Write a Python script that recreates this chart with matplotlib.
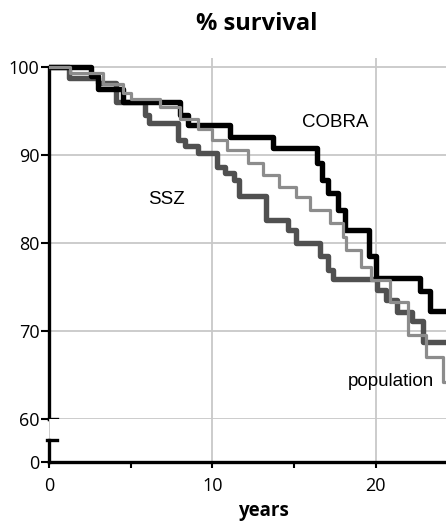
import matplotlib
matplotlib.use('Agg')
import matplotlib.pyplot as plt

# step survival curves (years, % survival)
cobra_t = [0, 2.6, 3.0, 4.5, 8.0, 8.5, 11.1, 13.7, 16.4, 16.7, 17.1, 17.7, 18.1, 19.6, 20.0, 22.7, 23.3, 24.3]
cobra_s = [100, 99.0, 97.5, 96.0, 94.6, 93.4, 92.0, 90.8, 89.1, 87.2, 85.7, 83.8, 81.5, 78.5, 76.0, 74.5, 72.3, 72.3]

ssz_t = [0, 1.2, 3.0, 4.1, 5.9, 6.1, 7.9, 8.3, 9.1, 10.3, 10.8, 11.3, 11.6, 13.3, 14.6, 15.1, 16.6, 17.1, 17.4,
         20.1, 20.6, 21.3, 22.2, 22.9, 24.3]
ssz_s = [100, 98.7, 98.2, 96.0, 94.5, 93.6, 91.7, 91.0, 90.2, 88.6, 87.9, 87.2, 85.3, 82.6, 81.5, 80.0, 78.5,
         76.9, 75.9, 74.7, 73.5, 72.2, 71.1, 68.8, 68.8]

pop_t = [0, 1.3, 3.3, 4.5, 5.0, 6.8, 8.0, 9.1, 10.0, 10.9, 12.2, 13.1, 14.1, 15.1, 16.0, 17.2, 18.0, 18.2,
         19.1, 19.7, 20.9, 22.0, 23.1, 24.1, 24.3]
pop_s = [100, 99.3, 98.1, 97.0, 96.4, 95.5, 94.1, 93.0, 91.7, 90.6, 89.1, 87.7, 86.4, 85.2, 83.7, 82.3, 80.7,
         79.2, 77.3, 75.8, 73.3, 69.5, 67.0, 64.2, 64.2]

upper_ticks = [60, 70, 80, 90, 100]
x_ticks = [0, 10, 20]
x_minor = [5, 15]

labels = {'COBRA': (17.5, 93.2), 'SSZ': (7.2, 84.4), 'population': (20.9, 63.8)}

W, H = 446, 521
fig = plt.figure(figsize=(W / 100, H / 100), dpi=100)
left = 49 / W
ax = fig.add_axes([left, (H - 419) / H, 1 - left, (419 - 58.2) / H])
axb = fig.add_axes([left, (H - 462) / H, 1 - left, (462 - 419) / H])

grid_c = '#c8c8c8'
tick_font = dict(family='Open Sans', size=13)

# upper part: 60-100
ax.step(ssz_t, ssz_s, where='post', color='#505050', lw=3.9, zorder=3)
ax.step(cobra_t, cobra_s, where='post', color='black', lw=3.9, zorder=4)
ax.step(pop_t, pop_s, where='post', color='#8c8c8c', lw=2.3, zorder=5)

ax.set_xlim(0, 24.3)
ax.set_ylim(60, 101)
ax.set_yticks(upper_ticks)
ax.set_yticklabels([str(v) for v in upper_ticks], fontdict=tick_font)
ax.set_xticks([10, 20])
ax.tick_params(axis='x', length=0, labelbottom=False)
ax.tick_params(axis='y', length=6, width=1.5, pad=1)
ax.grid(True, color=grid_c, lw=1.3, zorder=0)
for s in ['top', 'right', 'bottom']:
    ax.spines[s].set_visible(False)
ax.spines['left'].set_linewidth(2.4)
ax.spines['left'].set_bounds(60, 100)
ax.plot([0, 0.48], [60, 60], color='black', lw=2.4, clip_on=False, zorder=6)

for name, (tx, ty) in labels.items():
    ax.text(tx, ty, name, ha='center', va='baseline', fontsize=13.5,
            family='Liberation Sans', zorder=7)

# lower part: 0 only
axb.set_xlim(0, 24.3)
axb.set_ylim(0, 43)
axb.set_yticks([0])
axb.set_yticklabels(['0'], fontdict=tick_font)
axb.set_xticks(x_ticks)
axb.set_xticks(x_minor, minor=True)
axb.set_xticklabels([str(v) for v in x_ticks], fontdict=tick_font)
axb.tick_params(axis='x', which='major', length=4, width=1.5, pad=7)
axb.tick_params(axis='x', which='minor', length=4, width=1.5)
axb.tick_params(axis='y', length=6, width=1.5, pad=1)
axb.grid(True, axis='x', color=grid_c, lw=1.3, zorder=0)
for s in ['top', 'right']:
    axb.spines[s].set_visible(False)
axb.spines['left'].set_linewidth(2.4)
axb.spines['left'].set_bounds(0, 22)
axb.spines['bottom'].set_linewidth(2.4)
axb.plot([-0.12, 0.48], [22, 22], color='black', lw=2.4, clip_on=False, zorder=6)

fig.text(257 / W, (H - 24) / H, '% survival', ha='center', va='center',
         fontsize=17, fontweight='bold', family='Open Sans')
fig.text(263 / W, (H - 516) / H, 'years', ha='center', va='baseline',
         fontsize=13.5, fontweight='bold', family='Open Sans')

fig.savefig('out.png', dpi=100)
